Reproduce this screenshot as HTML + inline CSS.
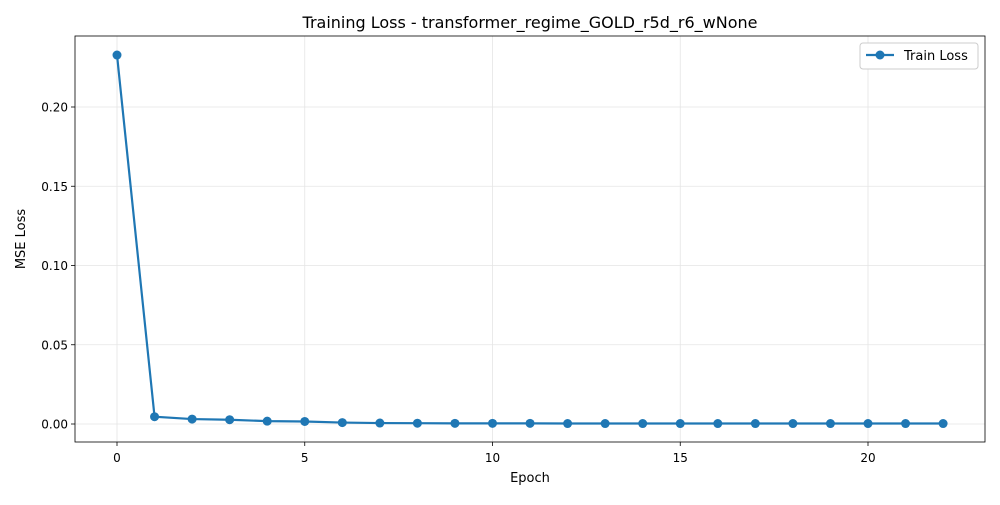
<!DOCTYPE html>
<html><head><style>
body{margin:0;background:#fff;font-family:"Liberation Sans","DejaVu Sans",sans-serif;}
</style></head><body>
<svg id="c" width="1000" height="500" xmlns="http://www.w3.org/2000/svg" font-family="'DejaVu Sans','Liberation Sans',sans-serif">
<rect width="1000" height="500" fill="#fff"/>
<g id="grid"></g>
<g id="ticks"></g>
<rect x="75" y="36" width="910" height="406" fill="none" stroke="#000" stroke-width="0.8"/>
<g id="series"></g>
<text x="530" y="28" text-anchor="middle" font-size="16">Training Loss - transformer_regime_GOLD_r5d_r6_wNone</text>
<text x="530" y="482" text-anchor="middle" font-size="13">Epoch</text>
<text x="25" y="239" text-anchor="middle" font-size="13" transform="rotate(-90 25 239)">MSE Loss</text>
<g>
<rect x="860" y="43" width="118" height="26" rx="3" fill="#fff" stroke="#ccc" stroke-width="1"/>
<line x1="866" y1="55" x2="894" y2="55" stroke="#1f77b4" stroke-width="2.2"/>
<circle cx="880" cy="55" r="4.5" fill="#1f77b4"/>
<text x="904" y="60" font-size="13">Train Loss</text>
</g>
</svg>
<script>
const epochs=[0,1,2,3,4,5,6,7,8,9,10,11,12,13,14,15,16,17,18,19,20,21,22];
const trainLoss=[0.2328,0.0046,0.0031,0.0027,0.0018,0.0016,0.0009,0.0006,0.0005,0.0004,0.0004,0.0004,0.0003,0.0003,0.0003,0.0003,0.0003,0.0003,0.0003,0.0003,0.0003,0.0003,0.0003];
const xTicks=[0,5,10,15,20];
const yTicks=[0,0.05,0.10,0.15,0.20];
const yTickLabels=["0.00","0.05","0.10","0.15","0.20"];
const NS="http://www.w3.org/2000/svg";
const xs=v=>117+v*(868-117)/20;
const ys=v=>424-v*(424-107)/0.2;
const grid=document.getElementById('grid'),ticks=document.getElementById('ticks'),ser=document.getElementById('series');
function mk(t,a,p){const e=document.createElementNS(NS,t);for(const k in a)e.setAttribute(k,a[k]);p.appendChild(e);return e;}
xTicks.forEach(v=>{const x=xs(v);
const g=mk('line',{x1:x,x2:x,y1:36,y2:442,stroke:'#e5e5e5','stroke-width':0.8},grid);


const t=mk('line',{x1:x,x2:x,y1:442,y2:446,stroke:'#000','stroke-width':0.8},ticks);


const l=mk('text',{x:x,y:462,'text-anchor':'middle','font-size':12},ticks);l.textContent=v;


});
yTicks.forEach((v,i)=>{const y=ys(v);
const g=mk('line',{x1:75,x2:985,y1:y,y2:y,stroke:'#e5e5e5','stroke-width':0.8},grid);


const t=mk('line',{x1:71,x2:75,y1:y,y2:y,stroke:'#000','stroke-width':0.8},ticks);


const l=mk('text',{x:68,y:y+4.5,'text-anchor':'end','font-size':12},ticks);l.textContent=yTickLabels[i];


});
const pl=mk('polyline',{points:epochs.map((e,i)=>xs(e)+','+ys(trainLoss[i])).join(' '),fill:'none',stroke:'#1f77b4','stroke-width':2.2},ser);


epochs.forEach((e,i)=>{const c=mk('circle',{cx:xs(e),cy:ys(trainLoss[i]),r:4.5,fill:'#1f77b4'},ser);


});
</script>
</body></html>
